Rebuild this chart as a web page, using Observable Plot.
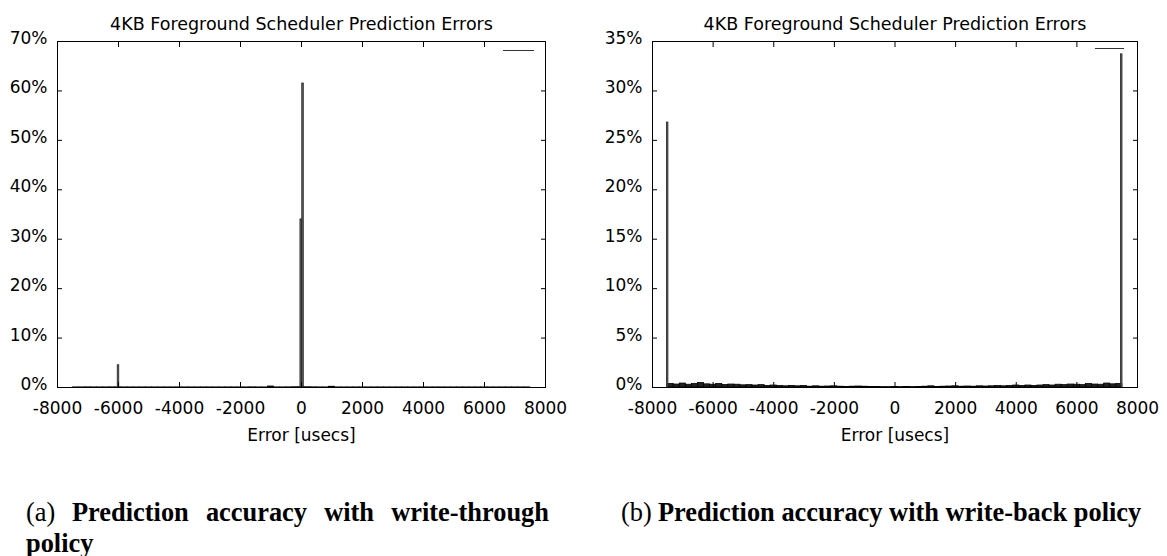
<!DOCTYPE html>
<html><head><meta charset="utf-8">
<script src="https://cdn.jsdelivr.net/npm/d3@7"></script>
<script src="https://cdn.jsdelivr.net/npm/@observablehq/plot@0.6"></script>
<style>
body{margin:0;background:#fff;width:1167px;height:556px;position:relative;overflow:hidden;font-family:"DejaVu Sans",sans-serif;}
.panel{position:absolute;top:0;}
.cap{position:absolute;font-family:"Liberation Serif","Times New Roman",serif;font-size:26.4px;color:#000;line-height:26px;white-space:nowrap;}
.bold{font-weight:bold;}
.key{position:absolute;height:0;border-top:1.3px solid #333;}
</style></head><body>
<div id="a" class="panel" style="left:0"></div>
<div id="b" class="panel" style="left:595px"></div>
<div class="key" style="left:503px;top:50px;width:31px"></div>
<div class="key" style="left:1095px;top:48px;width:29px"></div>
<div class="cap" style="left:26px;top:499px;">(a)</div>
<div class="cap bold" style="left:72px;top:499px;width:477px;white-space:normal;text-align:justify;text-align-last:justify">Prediction accuracy with write-through</div>
<div class="cap bold" style="left:26px;top:530px;">policy</div>
<div class="cap" style="left:621px;top:499px;">(b)</div>
<div class="cap bold" style="left:658px;top:499px;">Prediction accuracy with write-back policy</div>
<script>
const title = "4KB Foreground Scheduler Prediction Errors";
const xLabel = "Error [usecs]";
const xTicks = [-8000, -6000, -4000, -2000, 0, 2000, 4000, 6000, 8000];
const yTicksA = [0, 10, 20, 30, 40, 50, 60, 70];
const yTicksB = [0, 5, 10, 15, 20, 25, 30, 35];

// bin centers (usecs) of the low-level error histogram, -7400 .. 7400 every 200
const floorBins = d3.range(-7400, 7401, 200);
// (a) write-through: residual percentages per bin
const floorA = [
  0.02,0.02,0.03,0.02,0.02,0.02,0.03,0.02,0.02,0.02,0.02,0.02,0.02,
  0.02,0.02,0.02,0.02,0.02,0.02,0.02,0.02,0.02,0.02,
  0.02,0.02,0.02,0.02,0.02,0.02,0.03,0.02,0.02,0.2,
  0.02,0.02,0.03,0.05,0.05,0.05,0.03,0.02,0.02,
  0.15,0.02,0.02,0.02,0.02,0.02,0.02,0.02,0.02,0.02,
  0.02,0.02,0.02,0.02,0.02,0.02,0.02,0.02,0.02,0.02,
  0.02,0.02,0.02,0.02,0.02,0.02,0.02,0.02,0.02,0.02,0.02,0.02,0.02
];
// (b) write-back: residual percentages per bin
const floorB = [
  0.35,0.3,0.4,0.28,0.35,0.45,0.32,0.28,0.35,0.25,0.3,0.28,0.22,
  0.24,0.2,0.24,0.16,0.2,0.15,0.12,0.16,0.12,0.15,
  0.08,0.12,0.08,0.1,0.12,0.08,0.06,0.08,0.1,0.08,
  0.06,0.05,0.04,0.04,0.05,0.04,0.05,0.04,0.06,
  0.08,0.12,0.06,0.08,0.1,0.12,0.08,0.1,0.08,0.12,
  0.1,0.12,0.15,0.12,0.16,0.2,0.15,0.2,0.16,0.2,
  0.24,0.2,0.28,0.24,0.3,0.28,0.24,0.35,0.3,0.28,0.4,0.32,0.35
];
// spikes
const spikeXA = [-6000, -10, 50];
const spikeYA = [4.5, 34, 61.5];
const spikeXB = [-7500, 7480];
const spikeYB = [26.8, 33.7];

const BIN = 200, SPIKE = 50;

function chart(spX, spY, floorVals, yTicks, yMax, width, marginRight) {
  const spikes = spX.map((x, i) => ({x, y: spY[i]}));
  const floor = floorBins.map((x, i) => ({x, y: floorVals[i]}));
  return Plot.plot({
    width, height: 455,
    marginLeft: 57, marginRight, marginTop: 41, marginBottom: 68,
    style: {fontFamily: '"DejaVu Sans", sans-serif', fontSize: "17px", color: "#000", background: "#fff"},
    x: {domain: [-8000, 8000]},
    y: {domain: [0, yMax]},
    marks: [
      Plot.rectY(floor, {x1: d => d.x - BIN / 2, x2: d => d.x + BIN / 2, y1: 0, y2: "y", fill: "#222", stroke: "#000", strokeWidth: 0.8}),
      Plot.rectY(spikes, {x1: d => d.x - SPIKE / 2, x2: d => d.x + SPIKE / 2, y1: 0, y2: "y", fill: "#666", stroke: "#222", strokeWidth: 0.8}),
      Plot.frame({stroke: "#000"}),
      Plot.axisX({anchor: "bottom", ticks: xTicks, tickSize: -5, fill: "none", label: null}),
      Plot.axisX({anchor: "top", ticks: xTicks, tickSize: -5, fill: "none", label: null}),
      Plot.axisY({anchor: "left", ticks: yTicks, tickSize: -5, fill: "none", label: null}),
      Plot.axisY({anchor: "right", ticks: yTicks, tickSize: -5, fill: "none", label: null}),
      Plot.axisX({anchor: "bottom", ticks: xTicks, tickSize: 0, tickPadding: 14, tickFormat: d => String(d), label: null}),
      Plot.axisY({anchor: "left", ticks: yTicks, tickSize: 0, tickPadding: 10, tickFormat: d => d + "%", label: null, dy: -3}),
      Plot.text([title], {frameAnchor: "top", dy: -24, fontSize: 17.5}),
      Plot.text([xLabel], {frameAnchor: "bottom", dy: 53, fontSize: 17})
    ]
  });
}
document.getElementById("a").append(chart(spikeXA, spikeYA, floorA, yTicksA, 70, 583, 38));
document.getElementById("b").append(chart(spikeXB, spikeYB, floorB, yTicksB, 35, 572, 30));
</script>
</body></html>
